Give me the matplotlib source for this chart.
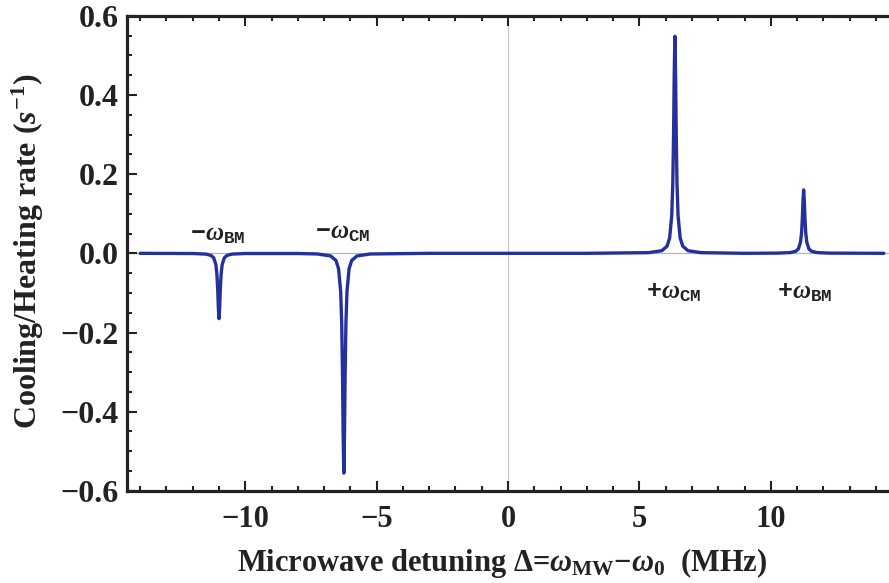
import matplotlib
matplotlib.use("Agg")

import matplotlib.pyplot as plt
from matplotlib.ticker import MultipleLocator, FixedLocator

plt.rcParams['font.family'] = ['Liberation Serif', 'DejaVu Serif']
plt.rcParams['font.weight'] = 'bold'
plt.rcParams['mathtext.fontset'] = 'custom'
plt.rcParams['mathtext.rm'] = 'Liberation Serif:bold'
plt.rcParams['mathtext.bf'] = 'Liberation Serif:bold'
plt.rcParams['mathtext.it'] = 'Liberation Serif:italic'
plt.rcParams['mathtext.tt'] = 'Liberation Mono:bold'

# detuning (MHz) and cooling/heating rate (1/s)
detuning = [-14.0, -12.0, -11.5, -11.3, -11.2, -11.12, -11.08, -11.05, -11.025,
            -11.0, -10.975, -10.95, -10.92, -10.88, -10.8, -10.7, -10.5, -10.0,
            -8.0, -7.25, -6.75, -6.55, -6.45, -6.37, -6.33, -6.30, -6.275,
            -6.25, -6.225, -6.20, -6.17, -6.13, -6.05, -5.95, -5.75, -5.25,
            -3.0, 0.0, 3.0, 5.35, 5.85, 6.05, 6.15, 6.23, 6.27, 6.30, 6.325,
            6.35, 6.375, 6.40, 6.43, 6.47, 6.55, 6.65, 6.85, 7.35,
            9.0, 10.25, 10.75, 10.95, 11.05, 11.13, 11.17, 11.20, 11.225,
            11.25, 11.275, 11.30, 11.33, 11.37, 11.45, 11.55, 11.75, 12.25, 14.3]
rate = [0.0, -0.0005, -0.0020, -0.0054, -0.0116, -0.0286, -0.053, -0.090, -0.137,
        -0.165, -0.137, -0.090, -0.053, -0.0286, -0.0116, -0.0054, -0.0020, -0.0005,
        -0.0005, -0.0017, -0.0067, -0.018, -0.039, -0.096, -0.178, -0.304, -0.460,
        -0.555, -0.460, -0.304, -0.178, -0.096, -0.039, -0.018, -0.0067, -0.0017,
        0.0, 0.0, 0.0, 0.0017, 0.0066, 0.0179, 0.0387, 0.0955, 0.1766, 0.301, 0.456,
        0.548, 0.456, 0.301, 0.1766, 0.0955, 0.0387, 0.0179, 0.0066, 0.0017,
        0.0, 0.0005, 0.0019, 0.0052, 0.0112, 0.0278, 0.051, 0.0876, 0.133,
        0.160, 0.133, 0.0876, 0.051, 0.0278, 0.0112, 0.0052, 0.0019, 0.0005, 0.0]

peak_labels = [r'$\mathtt{-}\omega_{\mathtt{BM}}$', r'$\mathtt{-}\omega_{\mathtt{CM}}$',
               r'$\mathtt{+}\omega_{\mathtt{CM}}$', r'$\mathtt{+}\omega_{\mathtt{BM}}$']
peak_pos = [-11.05, -6.3, 6.3, 11.3]
label_y = [0.048, 0.052, -0.1, -0.1]

fig = plt.figure(figsize=(8.89, 5.83), dpi=100)
ax = fig.add_axes([0.1429, 0.158, 0.861, 0.815])

ax.axhline(0, color="#b5b5b5", linewidth=0.9, zorder=1)
ax.axvline(0, color="#c8c8c8", linewidth=0.9, zorder=1)
ax.plot(detuning, rate, color="#24309c", linewidth=2.4, solid_capstyle="round", zorder=3)

for lab, px, py in zip(peak_labels, peak_pos, label_y):
    ax.text(px, py, lab, fontsize=18, ha="center", va="center", color="#222222")

ax.set_xlim(-14.5, 14.63)
ax.set_ylim(-0.6, 0.6)
ax.xaxis.set_major_locator(FixedLocator([-10, -5, 0, 5, 10]))
ax.xaxis.set_minor_locator(MultipleLocator(1))
ax.yaxis.set_major_locator(MultipleLocator(0.2))
ax.yaxis.set_minor_locator(MultipleLocator(0.05))
ax.set_yticklabels([f"{v:.1f}".replace("-", "\u2212") for v in ax.get_yticks()])

ax.tick_params(which="both", direction="in", top=True, right=False, width=1.5, colors="#222222")
ax.tick_params(which="major", length=7, labelsize=23, pad=6)
ax.tick_params(which="minor", length=3.5)
ax.tick_params(axis="x", labelsize=22, pad=10)
for side in ["left", "bottom", "top"]:
    ax.spines[side].set_linewidth(2.3)
    ax.spines[side].set_color("#222222")
ax.spines["right"].set_visible(False)

fig.text(0.031, 0.569, r"Cooling/Heating rate ($\mathit{s}^{-1}$)", rotation=90,
         ha="center", va="center", fontsize=23, color="#222222")
fig.text(0.565, 0.035, r"Microwave detuning $\Delta$=$\omega_{\mathbf{MW}}$$-$$\omega_{\mathbf{0}}$  (MHz)",
         ha="center", va="center", fontsize=22, color="#222222")

fig.savefig("out.png", dpi=100)
